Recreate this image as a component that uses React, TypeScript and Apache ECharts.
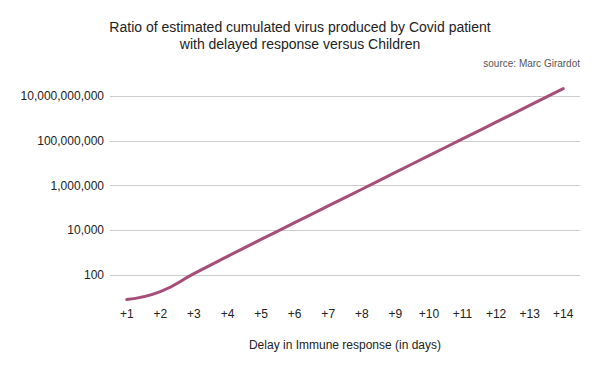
import React, { useEffect, useRef } from "react";
import * as echarts from "echarts";

const days = ["+1", "+2", "+3", "+4", "+5", "+6", "+7", "+8", "+9", "+10", "+11", "+12", "+13", "+14"];
const ratio = [8, 18, 115, 680, 3900, 22000, 123000, 690000, 3900000, 22000000, 123000000, 690000000, 3900000000, 22000000000];
const gridValues = [100, 10000, 1000000, 100000000, 10000000000];

const FONT = "'Liberation Sans', Arial, sans-serif";

export default function App() {
  const ref = useRef<HTMLDivElement>(null);
  useEffect(() => {
    if (!ref.current) return;
    const chart = echarts.init(ref.current, null, { renderer: "svg" });
    chart.setOption({
      animation: false,
      backgroundColor: "#ffffff",
      textStyle: { fontFamily: FONT },
      title: [
        {
          text: "Ratio of estimated cumulated virus produced by Covid patient\nwith delayed response versus Children",
          left: "center",
          top: 18.5,
          padding: 0,
          textStyle: { fontSize: 14, fontWeight: "normal", color: "#222", lineHeight: 17, fontFamily: FONT },
        },
        {
          text: "source: Marc Girardot",
          right: 20,
          top: 58,
          padding: 0,
          textStyle: { fontSize: 10, fontWeight: "normal", color: "#555", fontFamily: FONT },
        },
      ],
      grid: { left: 110, right: 20, top: 85.6, bottom: 71.5, containLabel: false },
      xAxis: {
        type: "category",
        data: days,
        boundaryGap: true,
        axisLine: { show: false },
        axisTick: { show: false },
        axisLabel: { color: "#222", fontSize: 12, margin: 8, fontFamily: FONT },
        name: "Delay in Immune response (in days)",
        nameLocation: "middle",
        nameGap: 39.5,
        nameTextStyle: { color: "#222", fontSize: 12, fontFamily: FONT },
      },
      yAxis: {
        type: "log",
        logBase: 10,
        min: 8,
        max: 30000000000,
        axisLine: { show: false },
        axisTick: { show: false },
        splitLine: { show: false },
        axisLabel: {
          color: "#222",
          fontSize: 12,
          margin: 6,
          fontFamily: FONT,
          showMinLabel: false,
          showMaxLabel: false,
          formatter: (v: number) => {
            const r = Math.round(v);
            return gridValues.indexOf(r) >= 0 ? r.toLocaleString("en-US") : "";
          },
        },
      },
      series: [
        {
          type: "line",
          data: ratio,
          smooth: 0.5,
          showSymbol: false,
          symbol: "none",
          lineStyle: { color: "#a64d79", width: 3, cap: "round" },
          markLine: {
            silent: true,
            symbol: "none",
            label: { show: false },
            lineStyle: { color: "#cccccc", width: 1, type: "solid" },
            data: gridValues.map((v) => ({ yAxis: v })),
            z: 1,
          },
        },
      ],
    });
    return () => chart.dispose();
  }, []);
  return <div ref={ref} style={{ position: "fixed", left: 0, top: 0, width: 600, height: 371 }} />;
}
